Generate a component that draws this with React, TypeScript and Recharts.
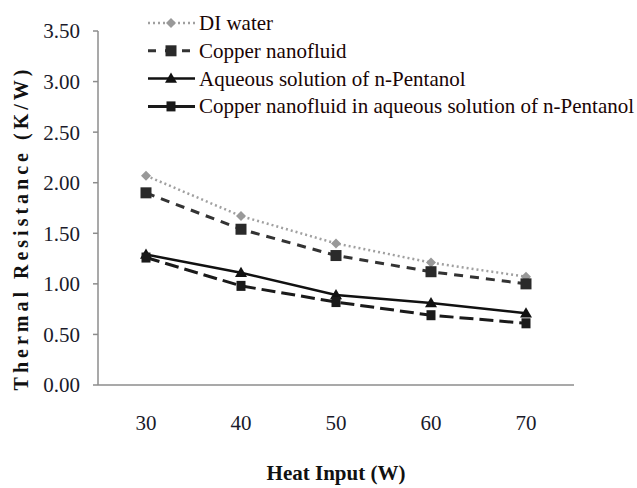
import React from 'react';
import { LineChart, Line, XAxis, YAxis } from 'recharts';

const categories = ['30', '40', '50', '60', '70'];
const diWater = [2.07, 1.67, 1.4, 1.21, 1.07];
const copperNano = [1.9, 1.54, 1.28, 1.12, 1.0];
const aqueous = [1.29, 1.11, 0.89, 0.81, 0.71];
const copperAqueous = [1.26, 0.98, 0.82, 0.69, 0.61];
const yTicks = [0, 0.5, 1, 1.5, 2, 2.5, 3, 3.5];

const seriesNames = [
  'DI water',
  'Copper nanofluid',
  'Aqueous solution of n-Pentanol',
  'Copper nanofluid in aqueous solution of n-Pentanol',
];

const data = categories.map((c, i) => ({
  x: c,
  di: diWater[i],
  cu: copperNano[i],
  aq: aqueous[i],
  cuaq: copperAqueous[i],
}));

const FONT = 'Liberation Serif';

type Shape = 'diamond' | 'square' | 'triangle' | 'smallsquare';

const Marker = ({ cx, cy, shape, color }: { cx: number; cy: number; shape: Shape; color: string }) => {
  if (cx == null || cy == null) return null;
  if (shape === 'diamond') {
    const s = 5;
    return <polygon points={`${cx},${cy - s} ${cx + s},${cy} ${cx},${cy + s} ${cx - s},${cy}`} fill={color} />;
  }
  if (shape === 'triangle') {
    const s = 6;
    return <polygon points={`${cx},${cy - s} ${cx + s},${cy + s * 0.7} ${cx - s},${cy + s * 0.7}`} fill={color} />;
  }
  if (shape === 'smallsquare') {
    return <rect x={cx - 4.5} y={cy - 5} width={9} height={10} fill={color} />;
  }
  return <rect x={cx - 5.5} y={cy - 5.5} width={11} height={11} fill={color} />;
};

const seriesStyle = [
  { key: 'di', color: '#a0a0a0', dash: '2 3', width: 2.5, shape: 'diamond' as Shape, markColor: '#999999' },
  { key: 'cu', color: '#333333', dash: '9 7', width: 3, shape: 'square' as Shape, markColor: '#2a2a2a' },
  { key: 'aq', color: '#111111', dash: undefined, width: 2.5, shape: 'triangle' as Shape, markColor: '#111111' },
  { key: 'cuaq', color: '#1a1a1a', dash: '14 6', width: 3, shape: 'smallsquare' as Shape, markColor: '#1a1a1a' },
];

const legendDash = ['2 3', '8 9', undefined, undefined];

const CustomLegend = () => (
  <svg width={500} height={120} style={{ display: 'block' }}>
    {seriesNames.map((name, i) => {
      const st = seriesStyle[i];
      const y = 23 + i * 27.8;
      return (
        <g key={name}>
          <line
            x1={8}
            x2={55}
            y1={y}
            y2={y}
            stroke={st.color}
            strokeWidth={st.width}
            strokeDasharray={legendDash[i]}
          />
          <Marker cx={31} cy={y} shape={st.shape} color={st.markColor} />
          <text x={59} y={y + 7} fontFamily={FONT} fontSize={21} fill="#1a0505">
            {name}
          </text>
        </g>
      );
    })}
  </svg>
);

const YLabel = (props: any) => {
  const vb = props.viewBox || { x: 0, y: 0, width: 0, height: 0 };
  const cx = 21;
  const cy = vb.y + vb.height / 2 + 20;
  return (
    <text
      x={cx}
      y={cy}
      transform={`rotate(-90 ${cx} ${cy})`}
      textAnchor="middle"
      dominantBaseline="central"
      fontFamily={FONT}
      fontWeight="bold"
      fontSize={20}
      letterSpacing={4}
      fill="#111"
    >
      Thermal Resistance (K/W)
    </text>
  );
};

const XLabel = (props: any) => {
  const vb = props.viewBox || { x: 0, y: 0, width: 0, height: 0 };
  return (
    <text
      x={vb.x + vb.width / 2}
      y={vb.y + 95}
      textAnchor="middle"
      fontFamily={FONT}
      fontWeight="bold"
      fontSize={21}
      fill="#111"
    >
      Heat Input (W)
    </text>
  );
};

const tickStyle = { fontFamily: FONT, fontSize: 21, fill: '#1a1a2a' };

export default function App() {
  return (
    <div style={{ position: 'absolute', left: 0, top: 0, width: 637, height: 488, background: '#fff' }}>
      <LineChart width={637} height={488} data={data} margin={{ top: 31, right: 63, left: 0, bottom: 0 }}>
        <XAxis
          dataKey="x"
          height={103}
          padding={{ left: 48, right: 48 }}
          tickLine={false}
          tickSize={0}
          tickMargin={30}
          stroke="#8c8c8c"
          strokeWidth={1.5}
          tick={tickStyle}
          label={<XLabel />}
        />
        <YAxis
          width={98}
          domain={[0, 3.5]}
          ticks={yTicks}
          interval={0}
          tickFormatter={(v: number) => v.toFixed(2)}
          tickSize={5}
          tickMargin={13}
          stroke="#8c8c8c"
          strokeWidth={1.5}
          tick={tickStyle}
          label={<YLabel />}
        />
        {seriesStyle.map((st, i) => (
          <Line
            key={st.key}
            dataKey={st.key}
            name={seriesNames[i]}
            stroke={st.color}
            strokeWidth={st.width}
            strokeDasharray={st.dash}
            isAnimationActive={false}
            dot={(p: any) => <Marker key={`${st.key}-${p.index}`} cx={p.cx} cy={p.cy} shape={st.shape} color={st.markColor} />}
            activeDot={false}
          />
        ))}
      </LineChart>
      <div style={{ position: 'absolute', left: 140, top: 0 }}>
        <CustomLegend />
      </div>
    </div>
  );
}
